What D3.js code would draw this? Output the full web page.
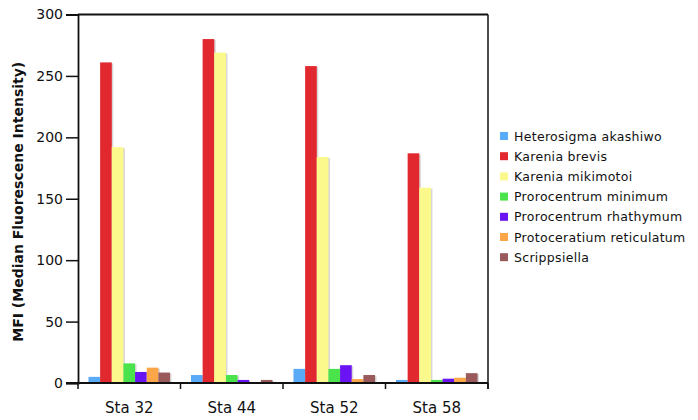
<!DOCTYPE html>
<html>
<meta charset="utf-8">
<head>
<script src="https://d3js.org/d3.v7.min.js"></script>
<style>
body { margin: 0; background: #fff; }
text { font-family: "DejaVu Sans", Verdana, sans-serif; }
</style>
</head>
<body>
<script>
// stations along x, species as series
var stations = ["Sta 32", "Sta 44", "Sta 52", "Sta 58"];
var species = ["Heterosigma akashiwo", "Karenia brevis", "Karenia mikimotoi",
  "Prorocentrum minimum", "Prorocentrum rhathymum", "Protoceratium reticulatum", "Scrippsiella"];
var colors = ["#5aabf7", "#e1282f", "#fcf98c", "#4be34b", "#6a14f4", "#fca64a", "#9a5a5c"];

// one array per species, values per station
var heterosigma = [5, 6.5, 11.5, 2.5];
var kBrevis     = [261, 280, 258, 187];
var kMikimotoi  = [192, 269, 184, 159];
var pMinimum    = [16, 6.5, 11.5, 2.5];
var pRhathymum  = [9, 2.5, 14.5, 3.5];
var pReticul    = [12.5, 0, 3.2, 4.3];
var scripps     = [8.5, 2.5, 6.5, 8];
var series = [heterosigma, kBrevis, kMikimotoi, pMinimum, pRhathymum, pReticul, scripps];
var yTicks = [0, 50, 100, 150, 200, 250, 300];

var W = 698, H = 420;
var mLeft = 78, mRight = 488, mTop = 14.5, mBottom = 383;

var svg = d3.select("body").append("svg").attr("width", W).attr("height", H);

var x0 = d3.scaleBand().domain(stations).range([mLeft, mRight]).paddingInner(0).paddingOuter(0);
var x1 = d3.scaleBand().domain(species).range([0, x0.bandwidth()]).paddingOuter(0.9).paddingInner(0);
var y = d3.scaleLinear().domain([0, 300]).range([mBottom, mTop]);

// bars
var groups = svg.selectAll("g.station")
  .data(stations)
  .enter().append("g")
  .attr("class", "station")
  .attr("transform", function(d) { return "translate(" + x0(d) + ",0)"; });

groups.selectAll("g.bar")
  .data(function(st, i) {
    return species.map(function(sp, j) { return {sp: sp, v: series[j][i], c: colors[j]}; });
  })
  .enter().append("g")
  .attr("class", "bar")
  .each(function(d) {
    var g = d3.select(this);
    if (d.v <= 0) return;
    // faint shadow at the right edge
    g.append("rect")
      .attr("x", x1(d.sp) + 1.5)
      .attr("y", y(d.v) + 1)
      .attr("width", x1.bandwidth())
      .attr("height", mBottom - y(d.v) - 1)
      .attr("fill", "#c8c4c4")
      .attr("opacity", 0.7);
    g.append("rect")
      .attr("x", x1(d.sp))
      .attr("y", y(d.v))
      .attr("width", x1.bandwidth())
      .attr("height", mBottom - y(d.v))
      .attr("fill", d.c);
  });

// frame
svg.append("line").attr("x1", mLeft).attr("x2", mRight).attr("y1", mTop).attr("y2", mTop)
  .attr("stroke", "#111").attr("stroke-width", 2);
svg.append("line").attr("x1", mRight).attr("x2", mRight).attr("y1", mTop).attr("y2", mBottom + 6)
  .attr("stroke", "#111").attr("stroke-width", 1.5);

// y axis
var yAxis = svg.append("g")
  .attr("transform", "translate(" + mLeft + ",0)")
  .call(d3.axisLeft(y).tickValues(yTicks).tickSize(12).tickPadding(3));
yAxis.select(".domain").attr("stroke", "#111").attr("stroke-width", 1.8);
yAxis.selectAll(".tick line").attr("stroke", "#111").attr("stroke-width", 1.5);
yAxis.selectAll("text").attr("font-size", 14).attr("fill", "#111")
  .attr("font-family", "DejaVu Sans, sans-serif");

// x axis with ticks at band boundaries
var xAxis = svg.append("g").attr("transform", "translate(0," + mBottom + ")");
xAxis.append("line").attr("x1", mLeft - 12).attr("x2", mRight).attr("stroke", "#111").attr("stroke-width", 1.8);
xAxis.selectAll("line.tk")
  .data(stations.concat(["end"]))
  .enter().append("line")
  .attr("class", "tk")
  .attr("x1", function(d, i) { return i < stations.length ? x0(d) : mRight; })
  .attr("x2", function(d, i) { return i < stations.length ? x0(d) : mRight; })
  .attr("y1", 0).attr("y2", 6)
  .attr("stroke", "#111").attr("stroke-width", 1.5);
xAxis.selectAll("text")
  .data(stations)
  .enter().append("text")
  .attr("x", function(d) { return x0(d) + x0.bandwidth() / 2; })
  .attr("y", 30)
  .attr("text-anchor", "middle")
  .attr("font-size", 15)
  .attr("fill", "#111")
  .text(function(d) { return d; });

// y label
svg.append("text")
  .attr("transform", "translate(23," + ((mTop + mBottom) / 2 + 3) + ") rotate(-90)")
  .attr("text-anchor", "middle")
  .attr("font-size", 14)
  .attr("font-weight", "bold")
  .attr("font-family", "Liberation Sans, Arial, sans-serif")
  .attr("fill", "#111")
  .text("MFI (Median Fluorescene Intensity)");

// legend
var legend = svg.selectAll("g.legend")
  .data(species)
  .enter().append("g")
  .attr("class", "legend")
  .attr("transform", function(d, i) { return "translate(500," + (136 + i * 20.2) + ")"; });
legend.append("rect").attr("x", 0).attr("y", -4).attr("width", 8).attr("height", 8)
  .attr("fill", function(d, i) { return colors[i]; });
legend.append("text").attr("x", 14).attr("y", 4.5).attr("font-size", 12.5)
  .attr("letter-spacing", 0.3).attr("fill", "#111")
  .text(function(d) { return d; });
</script>
</body>
</html>
